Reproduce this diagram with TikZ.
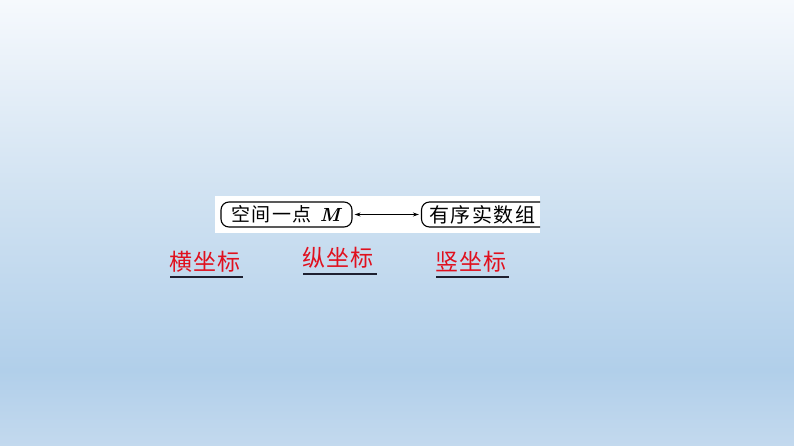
\documentclass[tikz,border=0pt]{standalone}
\usepackage{fontspec}
\newfontfamily\cjkbox[LetterSpace=8]{Noto Sans CJK SC}
\newfontfamily\cjkred[LetterSpace=5]{Noto Sans CJK SC}
\usetikzlibrary{arrows.meta}
\definecolor{bgtop}{HTML}{F6F9FD}
\definecolor{bgmid}{HTML}{D2E3F2}
\definecolor{bglow}{HTML}{B1CFEA}
\definecolor{bgbot}{HTML}{C3D9EE}
\definecolor{redtxt}{HTML}{E0101E}
\definecolor{ulcol}{HTML}{1E2030}
\tikzset{
  roundbox/.style={draw=black, line width=1.1pt, rounded corners=8pt, inner sep=0pt},
  boxtext/.style={inner sep=0pt, font=\fontsize{19}{19}\selectfont\cjkbox},
  redlabel/.style={inner sep=0pt, text=redtxt, font=\fontsize{23}{23}\selectfont\cjkred},
  uline/.style={draw=ulcol, line width=1.3pt},
  biarrow/.style={line width=0.8pt, {Stealth[length=6pt,width=4pt]}-{Stealth[length=6pt,width=4pt]}}
}
\begin{document}
\begin{tikzpicture}[x=1pt,y=-1pt]
\shade[top color=bgtop, bottom color=bglow, middle color=bgmid] (0,0) rectangle (794,370.5);
\shade[top color=bglow, bottom color=bgbot] (0,370) rectangle (794,446);
\useasboundingbox (0,0) rectangle (794,446);
% white panel
\fill[white] (215,196) rectangle (540,233);
% left box
\node[roundbox, minimum width=131pt, minimum height=25pt] (p) at (286.5,214.5) {};
\node[boxtext, anchor=west] (pt) at (231,214.5) {空间一点\hspace{8pt}{\normalfont\fontsize{19}{19}\selectfont\bfseries\itshape M}};
% right box (clipped by the panel)
\begin{scope}
\clip (215,196) rectangle (540,233);
\node[roundbox, minimum width=140pt, minimum height=25pt] (q) at (491.5,214.5) {};
\end{scope}
\node[boxtext, anchor=west, font=\fontsize{20}{20}\selectfont\cjkbox] (qt) at (429,214.5) {有序实数组};
% arrow
\path (p.east) ++(2pt,0) coordinate (a1);
\path (q.west) ++(-2pt,0) coordinate (a2);
\draw[biarrow] (a1) -- (a2);
% red labels
\node[redlabel, anchor=west] (h) at (169,262) {横坐标};
\node[redlabel, anchor=west] (z) at (302,258) {纵坐标};
\node[redlabel, anchor=west] (s) at (435,262) {竖坐标};
\draw[uline] (170,277) -- (243,277);
\draw[uline] (303,274) -- (377,274);
\draw[uline] (436,277) -- (509,277);
\end{tikzpicture}
\end{document}
